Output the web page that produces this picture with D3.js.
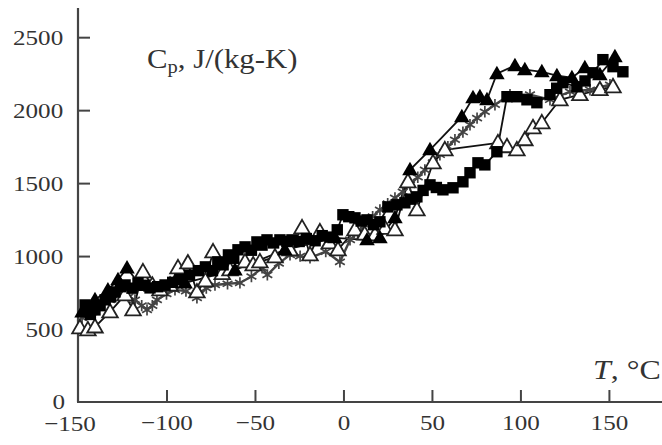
<!DOCTYPE html>
<html>
<head>
<meta charset="utf-8">
<script src="https://cdn.jsdelivr.net/npm/d3@7/dist/d3.min.js"></script>
<style>
  html, body { margin: 0; padding: 0; background: #fff; }
  svg { display: block; }
  text { font-family: "Liberation Serif", "Times New Roman", serif; fill: #333; }
</style>
</head>
<body>
<svg id="chart" width="662" height="445"></svg>
<script>
// Specific heat Cp (J/(kg·K)) against temperature T (°C), four measurement runs.
const xTicks = [-150, -100, -50, 0, 50, 100, 150];
const yTicks = [0, 500, 1000, 1500, 2000, 2500];

// run 1 – filled squares: [T, Cp]
const squares = [
  [-146.0, 665], [-143.0, 600], [-140.4, 631], [-137.5, 660], [-134.7, 700],
  [-131.5, 720], [-129.1, 754], [-126.0, 790], [-123.4, 802], [-119.5, 780],
  [-116.1, 816], [-112.5, 800], [-109.3, 782], [-105.0, 790], [-100.8, 802],
  [-96.5, 820], [-92.4, 840], [-87.0, 870], [-82.0, 900], [-78.0, 926],
  [-74.0, 900], [-71.0, 960], [-68.0, 940], [-65.0, 1008], [-62.0, 985],
  [-59.6, 1043], [-55.6, 1063], [-52.0, 1040], [-48.9, 1097], [-46.0, 1075],
  [-43.2, 1111], [-39.5, 1090], [-35.9, 1111], [-32.0, 1100], [-29.1, 1111],
  [-25.0, 1100], [-21.0, 1120], [-16.0, 1105], [-12.0, 1140], [-7.6, 1130],
  [-3.5, 1180], [-0.3, 1283], [3.0, 1270], [6.5, 1262], [10.0, 1240],
  [13.3, 1248], [17.0, 1215], [20.6, 1235], [25.1, 1337], [30.2, 1351],
  [34.7, 1365], [38.0, 1390], [41.5, 1406], [45.0, 1450], [48.9, 1488],
  [52.5, 1470], [56.2, 1454], [61.9, 1468], [67.5, 1509], [71.5, 1571],
  [76.0, 1639], [79.9, 1625], [86.7, 1715], [92.4, 2092], [98.0, 2092],
  [103.7, 2071], [109.3, 2051], [116.7, 2106], [120.5, 2150], [124.0, 2188],
  [131.9, 2160], [136.5, 2200], [141.0, 2256], [146.6, 2346], [152.3, 2298],
  [157.9, 2263]
];

// run 2 – filled triangles
const filledTriangles = [
  [-147.7, 617], [-140.4, 700], [-133.1, 768], [-127.4, 837], [-122.3, 919],
  [-115.0, 802], [-89.5, 816], [-61.3, 905], [-33.1, 1043], [-4.8, 1125],
  [13.3, 1111], [20.6, 1125], [29.1, 1262], [37.6, 1591], [48.9, 1728],
  [66.9, 1955], [73.2, 2085], [77.1, 2092], [81.1, 2071], [86.7, 2250],
  [96.9, 2305], [102.5, 2277], [112.1, 2263], [120.6, 2236], [129.1, 2222],
  [136.4, 2291], [144.9, 2243], [153.4, 2366]
];

// run 3 – open triangles
const openTriangles = [
  [-148.9, 508], [-144.4, 494], [-140.4, 514], [-131.9, 617], [-123.4, 734],
  [-118.9, 631], [-113.3, 892], [-108.0, 800], [-103.7, 768], [-98.0, 800],
  [-93.5, 919], [-87.9, 953], [-82.8, 754], [-78.0, 830], [-73.7, 1029],
  [-68.5, 880], [-64.1, 905], [-55.6, 960], [-51.0, 940], [-47.2, 960],
  [-38.7, 994], [-30.2, 1043], [-23.4, 1193], [-18.9, 1008], [-13.3, 1166],
  [-8.0, 1090], [-3.1, 1043], [6.5, 1180], [12.0, 1150], [17.8, 1145],
  [23.5, 1190], [29.1, 1180], [36.4, 1509], [41.5, 1317], [50.6, 1639],
  [57.3, 1728], [87.3, 1776], [92.4, 1749], [98.0, 1728], [102.5, 1797],
  [107.1, 1879], [112.1, 1913], [122.3, 2071], [133.6, 2106], [144.9, 2140],
  [152.3, 2160]
];

// run 4 – asterisks
const asterisks = [
  [-147.7, 576], [-142.5, 610], [-137.6, 665], [-132.0, 700], [-126.3, 734],
  [-121.5, 720], [-117.8, 700], [-114.0, 660], [-111.0, 631], [-108.0, 660],
  [-105.4, 700], [-100.0, 740], [-95.2, 768], [-89.0, 760], [-82.8, 713],
  [-77.5, 780], [-72.6, 802], [-65.5, 810], [-58.5, 816], [-52.0, 860],
  [-46.0, 919], [-43.0, 871], [-36.5, 950], [-30.2, 1008], [-24.5, 1000],
  [-18.9, 988], [-10.0, 1030], [-2.0, 960], [3.7, 1111], [8.0, 1160],
  [12.1, 1214], [16.5, 1270], [20.6, 1317], [25.0, 1360], [29.1, 1399],
  [33.5, 1440], [37.6, 1488], [42.0, 1540], [46.0, 1591], [50.5, 1640],
  [54.5, 1694], [59.0, 1750], [63.0, 1797], [67.5, 1850], [71.5, 1900],
  [75.5, 1945], [79.9, 1989], [85.6, 2037], [94.1, 2106], [105.4, 2106],
  [116.7, 2071], [128.0, 2126], [139.3, 2140], [150.6, 2174]
];

const svg = d3.select("#chart");
const x = d3.scaleLinear().domain([-150, 180]).range([78, 662]);
const y = d3.scaleLinear().domain([0, 2700]).range([402, 8]);
const axisColor = "#444";
const stretch = "scale(1.14,1)";
const minus = d => d < 0 ? "\u2212" + Math.abs(d) : String(d);

// x axis ticks point up into the plot
const gx = svg.append("g").attr("transform", "translate(0,402)")
  .call(d3.axisBottom(x).tickValues(xTicks.slice(1))
    .tickSizeInner(-12).tickSizeOuter(0).tickPadding(8).tickFormat(minus));
gx.select(".domain").remove();
gx.selectAll(".tick line").attr("stroke", axisColor).attr("stroke-width", 2);
gx.selectAll(".tick text").attr("font-size", 22).attr("font-family", null)
  .attr("fill", "#333").attr("dy", "0.9em").attr("y", 8)
  .attr("transform", "scale(1.14,1)");

// the −150 label sits under the axis corner
svg.append("text").attr("x", 0).attr("y", 0)
  .attr("transform", `translate(${x(-150) - 8},431) scale(1.14,1)`)
  .attr("text-anchor", "middle").attr("font-size", 22)
  .text(minus(xTicks[0]));

// y axis ticks point right into the plot
const gy = svg.append("g").attr("transform", "translate(78,0)")
  .call(d3.axisLeft(y).tickValues(yTicks.slice(1))
    .tickSizeInner(-12).tickSizeOuter(0).tickPadding(14).tickFormat(d3.format("d")));
gy.select(".domain").remove();
gy.selectAll(".tick line").attr("stroke", axisColor).attr("stroke-width", 2);
gy.selectAll(".tick text").attr("font-size", 22).attr("font-family", null)
  .attr("fill", "#333").attr("transform", "scale(1.14,1)").attr("x", -13);

// zero label of the y axis
svg.append("text").attr("x", 0).attr("y", 0)
  .attr("transform", `translate(65,${y(yTicks[0]) + 7}) scale(1.14,1)`)
  .attr("text-anchor", "end").attr("font-size", 22).text(String(yTicks[0]));

// axis lines
svg.append("line").attr("x1", 78).attr("x2", 78).attr("y1", y(2700)).attr("y2", y(0))
  .attr("stroke", axisColor).attr("stroke-width", 2.2);
svg.append("line").attr("x1", 77).attr("x2", 662).attr("y1", y(0)).attr("y2", y(0))
  .attr("stroke", axisColor).attr("stroke-width", 2.2);

// connecting lines for each run
const line = d3.line().x(d => x(d[0])).y(d => y(d[1]));
[asterisks, openTriangles, squares, filledTriangles].forEach((s, i) => {
  svg.append("path").datum(s).attr("d", line)
    .attr("fill", "none").attr("stroke", i === 0 ? "#444" : "#111")
    .attr("stroke-width", i === 0 ? 2.4 : 1.8);
});

// markers
const sq = d3.symbol().type(d3.symbolSquare).size(130);
const tri = d3.symbol().type(d3.symbolTriangle).size(105);
const star = d3.symbol().type(d3.symbolAsterisk || d3.symbolCross).size(90);

svg.append("g").selectAll("path").data(asterisks).join("path")
  .attr("transform", d => `translate(${x(d[0])},${y(d[1])})`)
  .attr("d", star).attr("fill", "none").attr("stroke", "#444").attr("stroke-width", 1.7);

svg.append("g").selectAll("path").data(openTriangles).join("path")
  .attr("transform", d => `translate(${x(d[0])},${y(d[1]) + 1})`)
  .attr("d", tri).attr("fill", "#fff").attr("stroke", "#222").attr("stroke-width", 1.8);

svg.append("g").selectAll("path").data(squares).join("path")
  .attr("transform", d => `translate(${x(d[0])},${y(d[1])})`)
  .attr("d", sq).attr("fill", "#000");

svg.append("g").selectAll("path").data(filledTriangles).join("path")
  .attr("transform", d => `translate(${x(d[0])},${y(d[1]) + 1})`)
  .attr("d", tri).attr("fill", "#000");

// axis titles
const cp = svg.append("text").attr("x", 0).attr("y", 0)
  .attr("transform", `translate(147,68) ${stretch}`)
  .attr("font-size", 27).attr("fill", "#000");
cp.append("tspan").text("C");
cp.append("tspan").attr("font-size", 18).attr("dy", 5).text("p");
cp.append("tspan").attr("dy", -5).text(", J/(kg-K)");

const tl = svg.append("text").attr("x", 0).attr("y", 0)
  .attr("transform", `translate(593,379) ${stretch}`)
  .attr("font-size", 28).attr("fill", "#333");
tl.append("tspan").attr("font-style", "italic").text("T");
tl.append("tspan").text(", \u00B0C");
</script>
</body>
</html>
